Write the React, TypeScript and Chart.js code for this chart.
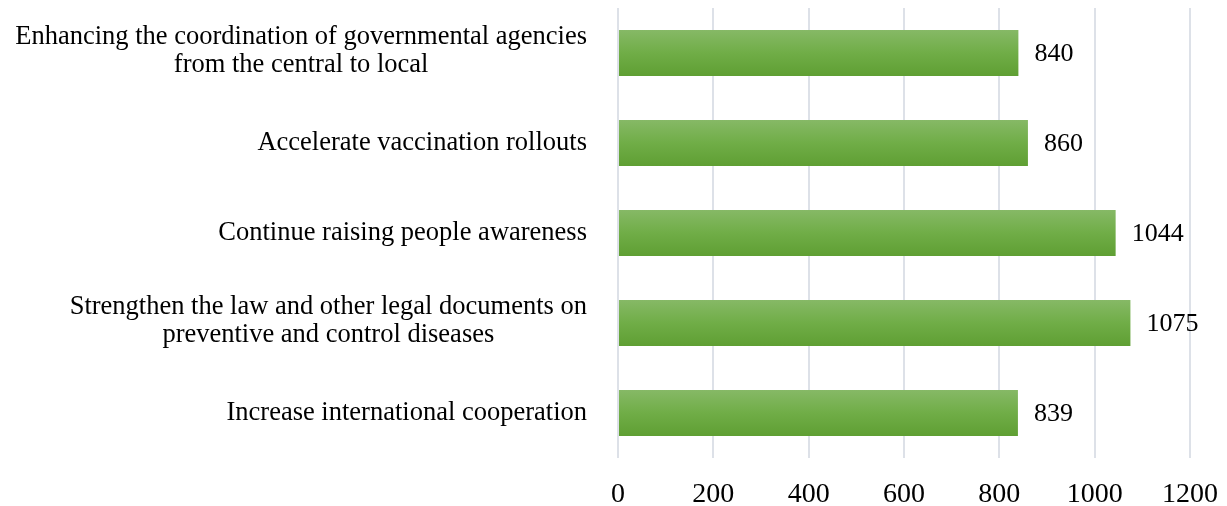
import React, { useEffect, useRef } from "react";
import { Chart, registerables } from "chart.js";

Chart.register(...registerables);

const categories: string[][] = [
  ["Enhancing the coordination of governmental agencies", "from the central to local"],
  ["Accelerate vaccination rollouts"],
  ["Continue raising people awareness"],
  ["Strengthen the law and other legal documents on", "preventive and control diseases"],
  ["Increase international cooperation"],
];
const values: number[] = [840, 860, 1044, 1075, 839];
const xTicks: number[] = [0, 200, 400, 600, 800, 1000, 1200];

const FONT = "'Liberation Serif', 'Times New Roman', serif";
const LABEL_SIZE = 26.5;
const VALUE_SIZE = 26;
const TICK_SIZE = 28;

const labelPlugin = {
  id: "customLabels",
  afterDatasetsDraw(chart: any) {
    const ctx = chart.ctx;
    const y = chart.scales.y;
    const area = chart.chartArea;
    ctx.save();
    ctx.fillStyle = "#000";
    ctx.font = `${LABEL_SIZE}px ${FONT}`;
    ctx.textBaseline = "middle";
    const lineH = 27.5;
    const rightEdge = area.left - 31;
    categories.forEach((lines, i) => {
      const cy = y.getPixelForValue(i) + (lines.length > 1 ? -2 : 0);
      const widths = lines.map((l) => ctx.measureText(l).width);
      const maxW = Math.max(...widths);
      const cx = rightEdge - maxW / 2;
      ctx.textAlign = "center";
      lines.forEach((l, j) => {
        const ly = cy + (j - (lines.length - 1) / 2) * lineH;
        ctx.fillText(l, cx, ly);
      });
    });
    const meta = chart.getDatasetMeta(0);
    ctx.font = `${VALUE_SIZE}px ${FONT}`;
    ctx.textAlign = "left";
    meta.data.forEach((bar: any, i: number) => {
      ctx.fillText(String(values[i]), bar.x + 16, bar.y + 1);
    });
    ctx.restore();
  },
};

export default function App() {
  const ref = useRef<HTMLCanvasElement | null>(null);
  useEffect(() => {
    if (!ref.current) return;
    const chart = new Chart(ref.current, {
      type: "bar",
      data: {
        labels: categories.map((c) => c.join(" ")),
        datasets: [
          {
            data: values,
            backgroundColor: (c: any) => {
              const ch = c.chart;
              const ys = ch.scales && ch.scales.y;
              if (!ys || c.dataIndex === undefined) return "#70ad47";
              const cy = ys.getPixelForValue(c.dataIndex);
              if (!Number.isFinite(cy)) return "#70ad47";
              const g = ch.ctx.createLinearGradient(0, cy - 23, 0, cy + 23);
              g.addColorStop(0, "#86b966");
              g.addColorStop(0.5, "#70ad47");
              g.addColorStop(1, "#5f9f33");
              return g;
            },
            borderWidth: 0,
            categoryPercentage: 1,
            barPercentage: 0.51,
          },
        ],
      },
      plugins: [labelPlugin],
      options: {
        indexAxis: "y",
        animation: false,
        responsive: false,
        maintainAspectRatio: false,
        layout: { padding: { top: 0, right: 29, bottom: 0, left: 0 } },
        plugins: { legend: { display: false }, tooltip: { enabled: false } },
        scales: {
          x: {
            min: 0,
            max: 1200,
            afterBuildTicks: (s: any) => {
              s.ticks = xTicks.map((v) => ({ value: v }));
            },
            afterFit: (s: any) => {
              s.height = 48;
              s.paddingRight = 0;
              s.paddingLeft = 0;
            },
            grid: { color: "#dde1e8", lineWidth: 2, drawTicks: false },
            border: { display: false },
            ticks: {
              color: "#000",
              font: { family: FONT, size: TICK_SIZE },
              padding: 19.5,
              maxRotation: 0,
              callback: (v: any) => String(v),
            },
          },
          y: {
            afterFit: (s: any) => {
              s.width = 610;
            },
            grid: { display: false, drawTicks: false },
            border: { display: false },
            ticks: { display: false },
          },
        },
      },
    } as any);
    return () => chart.destroy();
  }, []);
  return (
    <div style={{ width: 1211, height: 498 }}>
      <canvas ref={ref} width={1211} height={498} style={{ display: "block" }} />
    </div>
  );
}
